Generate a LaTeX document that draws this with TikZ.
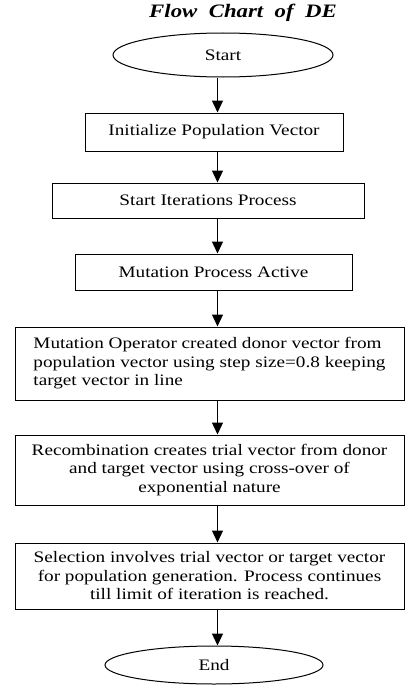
\documentclass[tikz,border=0pt]{standalone}
\usepackage{fontspec}
\setmainfont{Liberation Serif}[FakeStretch=1.2]
\usetikzlibrary{arrows.meta,shapes.geometric}
\begin{document}
\begin{tikzpicture}[x=1pt,y=-1pt,
  every node/.style={font=\fontsize{16}{18.5}\selectfont},
  box/.style={draw,line width=1pt,rectangle,inner sep=0pt,align=center},
  term/.style={draw,line width=1pt,ellipse,inner sep=0pt},
  arr/.style={line width=1.2pt,-{Triangle[width=11pt,length=12pt]}}]
\useasboundingbox (0,0) rectangle (405,685);
\node[font=\fontsize{19}{20}\selectfont\bfseries\itshape] (title) at (243,13) {Flow\ \ Chart\ \ of\ \ DE};
\node[term,minimum width=220,minimum height=44] (start) at (223,55) {Start};
\node[box,minimum width=258,minimum height=38] (b1) at (214,132) {Initialize Population Vector};
\node[box,minimum width=312,minimum height=35] (b2) at (208,200.5) {Start Iterations Process};
\node[box,minimum width=277,minimum height=36] (b3) at (213.5,272) {Mutation Process Active};
\node[box,minimum width=389,minimum height=73,align=left] (b4) at (209.5,363.5) {Mutation Operator created donor vector from\\population vector using step size=0.8 keeping\\target vector in line};
\node[box,minimum width=389,minimum height=70] (b5) at (209.5,470) {Recombination creates trial vector from donor\\and target vector using cross-over of\\exponential nature};
\node[box,minimum width=389,minimum height=66] (b6) at (209.5,576) {Selection involves trial vector or target vector\\for population generation. Process continues\\till limit of iteration is reached.};
\node[term,minimum width=218,minimum height=38] (end) at (214,665) {End};
\coordinate (ax) at (217.5,0);
\draw[arr] (start.south -| ax) -- (b1.north -| ax);
\draw[arr] (b1.south -| ax) -- (b2.north -| ax);
\draw[arr] (b2.south -| ax) -- (b3.north -| ax);
\draw[arr] (b3.south -| ax) -- (b4.north -| ax);
\draw[arr] (b4.south -| ax) -- (b5.north -| ax);
\draw[arr] (b5.south -| ax) -- (b6.north -| ax);
\draw[arr] (b6.south -| ax) -- (end.north -| ax);
\end{tikzpicture}
\end{document}
